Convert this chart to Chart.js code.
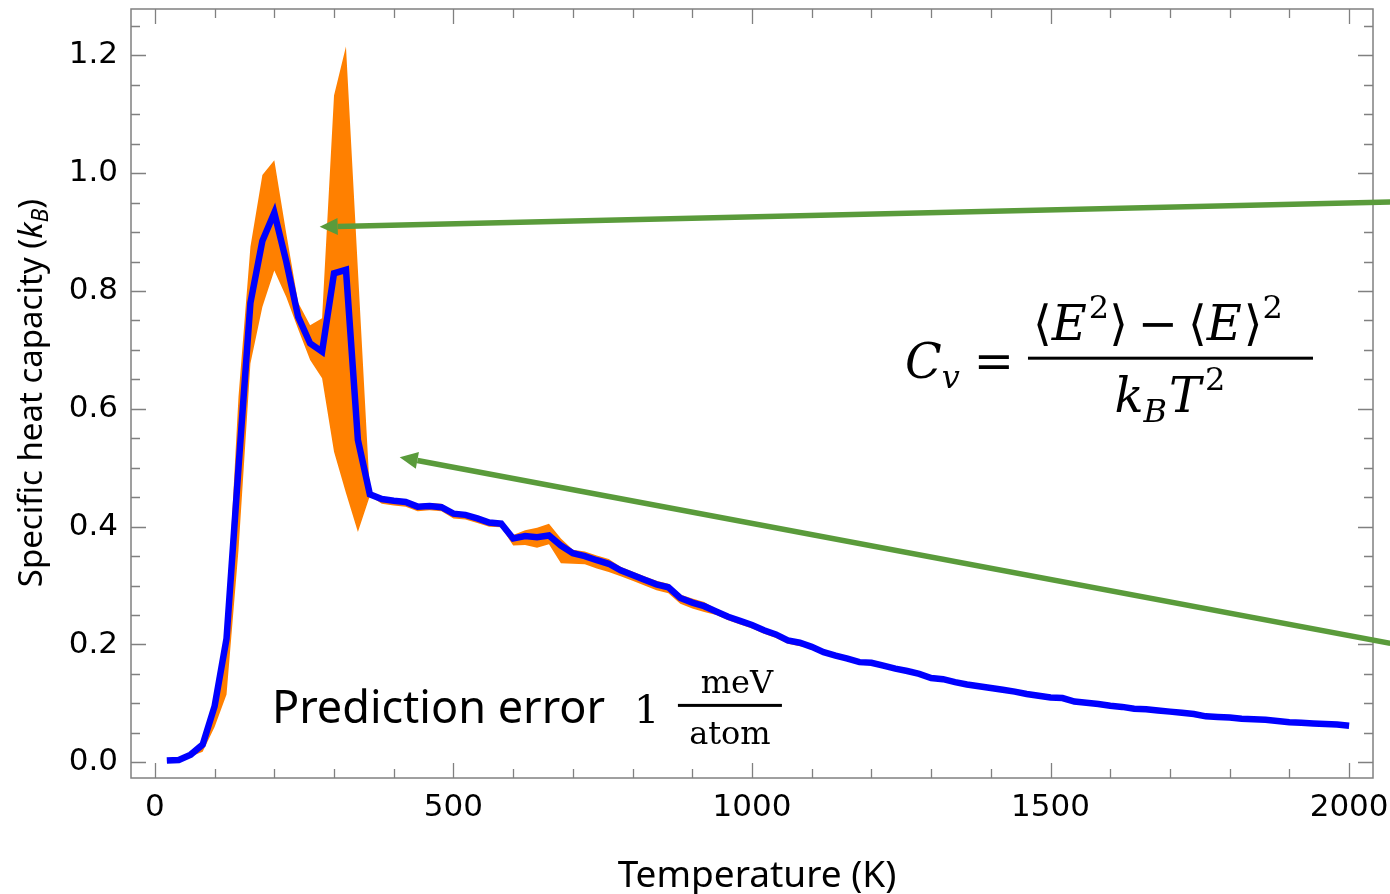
<!DOCTYPE html>
<html>
<head>
<meta charset="utf-8">
<script src="https://cdn.jsdelivr.net/npm/chart.js@4.4.0/dist/chart.umd.min.js"></script>
<style>
  html, body { margin: 0; padding: 0; background: #fff; }
  canvas { display: block; }
</style>
</head>
<body>
<canvas id="cvChart" width="1390" height="894"></canvas>
<script>
// Temperature grid (K)
const temps = [
  20, 40, 60, 80, 100, 120, 140, 160, 180, 200,
  220, 240, 260, 280, 300, 320, 340, 360, 380, 400,
  420, 440, 460, 480, 500, 520, 540, 560, 580, 600,
  620, 640, 660, 680, 700, 720, 740, 760, 780, 800,
  820, 840, 860, 880, 900, 920, 940, 960, 980, 1000,
  1020, 1040, 1060, 1080, 1100, 1120, 1140, 1160, 1180, 1200,
  1220, 1240, 1260, 1280, 1300, 1320, 1340, 1360, 1380, 1400,
  1420, 1440, 1460, 1480, 1500, 1520, 1540, 1560, 1580, 1600,
  1620, 1640, 1660, 1680, 1700, 1720, 1740, 1760, 1780, 1800,
  1820, 1840, 1860, 1880, 1900, 1920, 1940, 1960, 1980, 2000
];

// Specific heat capacity (kB), mean prediction
const cvMean = [
  0.003, 0.004, 0.013, 0.030, 0.095, 0.210, 0.500, 0.780, 0.885, 0.933,
  0.850, 0.756, 0.711, 0.697, 0.830, 0.836, 0.547, 0.455, 0.447, 0.444,
  0.442, 0.434, 0.435, 0.433, 0.422, 0.420, 0.414, 0.407, 0.405, 0.380,
  0.384, 0.382, 0.385, 0.368, 0.355, 0.350, 0.343, 0.337, 0.326, 0.318,
  0.310, 0.302, 0.297, 0.279, 0.271, 0.265, 0.256, 0.247, 0.240, 0.233,
  0.224, 0.217, 0.207, 0.203, 0.196, 0.187, 0.181, 0.176, 0.170, 0.169,
  0.164, 0.159, 0.155, 0.150, 0.143, 0.141, 0.136, 0.132, 0.129, 0.126,
  0.123, 0.120, 0.116, 0.113, 0.110, 0.109, 0.103, 0.101, 0.099, 0.096,
  0.094, 0.091, 0.090, 0.088, 0.086, 0.084, 0.082, 0.078, 0.077, 0.076,
  0.074, 0.073, 0.072, 0.070, 0.068, 0.067, 0.066, 0.065, 0.064, 0.062
];

// Upper edge of the error band
const cvUpper = [
  0.004, 0.005, 0.015, 0.034, 0.105, 0.240, 0.620, 0.875, 0.997, 1.022,
  0.898, 0.780, 0.742, 0.754, 1.132, 1.215, 0.836, 0.458, 0.451, 0.448,
  0.446, 0.438, 0.440, 0.439, 0.426, 0.424, 0.418, 0.411, 0.409, 0.386,
  0.394, 0.398, 0.405, 0.380, 0.361, 0.358, 0.351, 0.345, 0.332, 0.324,
  0.316, 0.308, 0.303, 0.285, 0.278, 0.272, 0.260, 0.251, 0.244, 0.237,
  0.228, 0.221, 0.211, 0.206, 0.198, 0.189, 0.183, 0.178, 0.172, 0.171,
  0.166, 0.161, 0.157, 0.152, 0.145, 0.143, 0.138, 0.134, 0.131, 0.128,
  0.125, 0.122, 0.118, 0.115, 0.112, 0.111, 0.105, 0.103, 0.101, 0.098,
  0.096, 0.093, 0.092, 0.090, 0.088, 0.086, 0.084, 0.080, 0.079, 0.078,
  0.076, 0.075, 0.074, 0.072, 0.070, 0.069, 0.068, 0.067, 0.066, 0.064
];

// Lower edge of the error band
const cvLower = [
  0.002, 0.003, 0.010, 0.018, 0.060, 0.115, 0.360, 0.677, 0.773, 0.835,
  0.790, 0.735, 0.683, 0.652, 0.527, 0.457, 0.391, 0.452, 0.439, 0.436,
  0.434, 0.426, 0.428, 0.426, 0.414, 0.412, 0.406, 0.400, 0.399, 0.368,
  0.369, 0.364, 0.370, 0.338, 0.337, 0.336, 0.329, 0.323, 0.316, 0.308,
  0.300, 0.292, 0.287, 0.269, 0.261, 0.255, 0.250, 0.241, 0.234, 0.227,
  0.218, 0.211, 0.201, 0.197, 0.194, 0.185, 0.179, 0.174, 0.168, 0.167,
  0.162, 0.157, 0.153, 0.148, 0.141, 0.139, 0.134, 0.130, 0.127, 0.124,
  0.121, 0.118, 0.114, 0.111, 0.108, 0.107, 0.101, 0.099, 0.097, 0.094,
  0.092, 0.089, 0.088, 0.086, 0.084, 0.082, 0.080, 0.076, 0.075, 0.074,
  0.072, 0.071, 0.070, 0.068, 0.066, 0.065, 0.064, 0.063, 0.062, 0.060
];

// Labelled ticks
const xTicks = [0, 500, 1000, 1500, 2000];
const yTicks = [0, 0.2, 0.4, 0.6, 0.8, 1.0, 1.2];

// Arrows: [fromT, fromCv, toT, toCv]
const arrows = [
  [2069, 0.951, 276, 0.909],
  [2069, 0.202, 410, 0.518]
];

const toPoints = vals => temps.map((t, i) => ({ x: t, y: vals[i] }));

// minor tick positions
const xMinor = [];
for (let v = 0; v <= 2000; v += 100) xMinor.push(v);
const yMinor = [];
for (let k = 0; k <= 25; k++) yMinor.push(+(k * 0.05).toFixed(2));

const SERIF = '"DejaVu Serif", "Liberation Serif", serif';
const SANS = '"Noto Sans", "Open Sans", sans-serif';

function drawRuns(ctx, runs, x, baseline) {
  // runs: {t, font, dy, gap}; draws left to right
  runs.forEach(r => {
    ctx.font = r.font;
    ctx.fillText(r.t, x, baseline + (r.dy || 0));
    x += ctx.measureText(r.t).width + (r.gap || 0);
  });
  return x;
}
function runsWidth(ctx, runs) {
  let w = 0;
  runs.forEach(r => { ctx.font = r.font; w += ctx.measureText(r.t).width + (r.gap || 0); });
  return w;
}

const frameAndText = {
  id: 'frameAndText',
  afterDraw(chart) {
    const { ctx, chartArea: a, scales: { x, y } } = chart;
    ctx.save();

    // frame
    ctx.strokeStyle = '#808080';
    ctx.lineWidth = 1.5;
    ctx.strokeRect(a.left, a.top, a.right - a.left, a.bottom - a.top);

    // inward ticks on all four sides
    ctx.lineWidth = 1.3;
    ctx.beginPath();
    xMinor.forEach(v => {
      const px = Math.round(x.getPixelForValue(v)) + 0.5;
      const len = xTicks.includes(v) ? 15 : 9;
      ctx.moveTo(px, a.bottom); ctx.lineTo(px, a.bottom - len);
      ctx.moveTo(px, a.top); ctx.lineTo(px, a.top + len);
    });
    yMinor.forEach(v => {
      const py = Math.round(y.getPixelForValue(v)) + 0.5;
      const major = Math.abs(v / 0.2 - Math.round(v / 0.2)) < 1e-6;
      const len = major ? 15 : 9;
      ctx.moveTo(a.left, py); ctx.lineTo(a.left + len, py);
      ctx.moveTo(a.right, py); ctx.lineTo(a.right - len, py);
    });
    ctx.stroke();

    // green arrows
    ctx.strokeStyle = '#5a9b3b';
    ctx.fillStyle = '#5a9b3b';
    ctx.lineWidth = 5.5;
    arrows.forEach(([t0, c0, t1, c1]) => {
      const x0 = x.getPixelForValue(t0), y0 = y.getPixelForValue(c0);
      const x1 = x.getPixelForValue(t1), y1 = y.getPixelForValue(c1);
      const ang = Math.atan2(y1 - y0, x1 - x0);
      const head = 18, half = 8.5;
      const bx = x1 - head * Math.cos(ang), by = y1 - head * Math.sin(ang);
      ctx.beginPath();
      ctx.moveTo(x0, y0); ctx.lineTo(bx, by);
      ctx.stroke();
      ctx.beginPath();
      ctx.moveTo(x1, y1);
      ctx.lineTo(bx + half * Math.sin(ang), by - half * Math.cos(ang));
      ctx.lineTo(bx - half * Math.sin(ang), by + half * Math.cos(ang));
      ctx.closePath();
      ctx.fill();
    });

    ctx.fillStyle = '#000';
    ctx.textBaseline = 'alphabetic';
    ctx.textAlign = 'left';

    // axis titles
    const xt = 'Temperature (K)';
    ctx.font = '37px ' + SANS;
    const xtw = ctx.measureText(xt).width;
    ctx.fillText(xt, (a.left + a.right) / 2 - xtw / 2 + 5, 887);

    const yRuns = [
      { t: 'Specific heat capacity (', font: '33px ' + SANS },
      { t: 'k', font: 'italic 33px ' + SANS },
      { t: 'B', font: 'italic 23px ' + SANS, dy: 6 },
      { t: ')', font: '33px ' + SANS }
    ];
    ctx.save();
    ctx.translate(42, 393);
    ctx.rotate(-Math.PI / 2);
    drawRuns(ctx, yRuns, -runsWidth(ctx, yRuns) / 2, 0);
    ctx.restore();

    // heat capacity formula, fraction bar anchored at (1700 K, 0.686)
    const fx = x.getPixelForValue(1700), fy = y.getPixelForValue(0.686);
    const big = '48px ' + SERIF, bigI = 'italic 48px ' + SERIF;
    const sup = '32px ' + SERIF, subI = 'italic 32px ' + SERIF;
    drawRuns(ctx, [
      { t: 'C', font: bigI },
      { t: 'v', font: subI, dy: 10, gap: 14 },
      { t: '=', font: big }
    ], fx - 265, fy + 20);
    const num = [
      { t: '\u27E8', font: big },
      { t: 'E', font: bigI, gap: 2 },
      { t: '2', font: sup, dy: -22 },
      { t: '\u27E9', font: big, gap: 10 },
      { t: '\u2212', font: big, gap: 10 },
      { t: '\u27E8', font: big },
      { t: 'E', font: bigI, gap: 2 },
      { t: '\u27E9', font: big },
      { t: '2', font: sup, dy: -22 }
    ];
    drawRuns(ctx, num, fx - 12 - runsWidth(ctx, num) / 2, fy - 18);
    const den = [
      { t: 'k', font: bigI },
      { t: 'B', font: subI, dy: 10, gap: 2 },
      { t: 'T', font: bigI, gap: 4 },
      { t: '2', font: sup, dy: -22 }
    ];
    drawRuns(ctx, den, fx - runsWidth(ctx, den) / 2, fy + 54);
    ctx.fillRect(fx - 142, fy - 1.5, 285, 3);

    // prediction error note, anchored at (196 K, 0.066)
    const px = x.getPixelForValue(196), py = y.getPixelForValue(0.066);
    ctx.font = '45px ' + SANS;
    ctx.fillText('Prediction error', px, py);
    ctx.font = '40px ' + SERIF;
    ctx.fillText('1', px + 362, py);
    const cx = px + 458;
    ctx.fillRect(cx - 52, py - 19.5, 104, 3);
    ctx.font = '32px ' + SERIF;
    ctx.textAlign = 'center';
    ctx.fillText('meV', cx + 7, py - 30);
    ctx.fillText('atom', cx, py + 21);

    ctx.restore();
  }
};

new Chart(document.getElementById('cvChart'), {
  type: 'line',
  data: {
    datasets: [
      {
        label: 'Mean',
        data: toPoints(cvMean),
        borderColor: '#0000ff',
        borderWidth: 6.5,
        pointRadius: 0,
        tension: 0,
        fill: false
      },
      {
        label: 'Upper',
        data: toPoints(cvUpper),
        borderWidth: 0,
        borderColor: 'rgba(0,0,0,0)',
        backgroundColor: '#ff8000',
        pointRadius: 0,
        tension: 0,
        fill: '+1'
      },
      {
        label: 'Lower',
        data: toPoints(cvLower),
        borderWidth: 0,
        borderColor: 'rgba(0,0,0,0)',
        pointRadius: 0,
        tension: 0,
        fill: false
      }
    ]
  },
  options: {
    responsive: false,
    animation: false,
    devicePixelRatio: 1,
    layout: { padding: { top: 9, right: 17, bottom: 0, left: 0 } },
    plugins: {
      legend: { display: false },
      tooltip: { enabled: false }
    },
    scales: {
      x: {
        type: 'linear',
        min: -40,
        max: 2040,
        grid: { display: false, drawTicks: false, tickLength: 0 },
        border: { display: false },
        afterBuildTicks: s => { s.ticks = xTicks.map(v => ({ value: v })); },
        afterFit: s => { s.height = 116; s.paddingLeft = 0; s.paddingRight = 0; },
        ticks: {
          maxRotation: 0,
          autoSkip: false,
          padding: 11,
          color: '#000',
          font: { family: '"DejaVu Sans", sans-serif', size: 31 },
          callback: v => String(v)
        }
      },
      y: {
        min: -0.0267,
        max: 1.2788,
        grid: { display: false, drawTicks: false, tickLength: 0 },
        border: { display: false },
        afterBuildTicks: s => { s.ticks = yTicks.map(v => ({ value: v })); },
        afterFit: s => { s.width = 131; s.paddingTop = 0; s.paddingBottom = 0; },
        ticks: {
          autoSkip: false,
          padding: 13,
          color: '#000',
          font: { family: '"DejaVu Sans", sans-serif', size: 31 },
          callback: v => v.toFixed(1)
        }
      }
    }
  },
  plugins: [frameAndText]
});
</script>
</body>
</html>
